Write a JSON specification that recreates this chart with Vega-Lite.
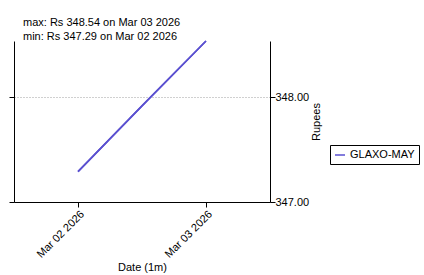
{
  "$schema": "https://vega.github.io/schema/vega-lite/v6.json",
  "autosize": "none",
  "width": 256,
  "height": 161,
  "padding": {"left": 14, "top": 41, "right": 154, "bottom": 73},
  "background": "white",
  "config": {
    "font": "Liberation Sans",
    "view": {"stroke": null},
    "axis": {"labelFont": "Liberation Sans", "titleFont": "Liberation Sans", "labelColor": "black", "titleColor": "black", "domainColor": "black", "tickColor": "black", "labelFontSize": 11, "titleFontSize": 11, "titleFontWeight": "normal", "tickSize": 5}
  },
  "title": {
    "text": ["max: Rs 348.54 on Mar 03 2026", "min: Rs 347.29 on Mar 02 2026"],
    "anchor": "start",
    "frame": "group",
    "dx": 9,
    "offset": -4,
    "fontSize": 11,
    "fontWeight": "normal",
    "font": "Liberation Sans",
    "color": "black",
    "lineHeight": 14
  },
  "data": {
    "values": [
      {"date": "2026-03-02T00:00:00", "price": 347.29, "series": "GLAXO-MAY"},
      {"date": "2026-03-02T12:00:00", "price": 347.92, "series": "GLAXO-MAY"},
      {"date": "2026-03-03T00:00:00", "price": 348.54, "series": "GLAXO-MAY"}
    ]
  },
  "layer": [
    {
      "mark": {"type": "line", "strokeWidth": 1.6},
      "encoding": {
        "x": {"field": "date", "type": "temporal",
          "scale": {"domain": ["2026-03-01T12:00:00", "2026-03-03T12:00:00"]},
          "axis": {"values": ["2026-03-02T00:00:00", "2026-03-03T00:00:00"], "format": "%b %d %Y", "labelAngle": -45, "title": "Date (1m)", "grid": false, "labelPadding": 1, "titlePadding": 2}},
        "y": {"field": "price", "type": "quantitative",
          "scale": {"domain": [347, 348.54], "nice": false, "zero": false},
          "axis": {"orient": "left", "values": [347, 348], "labels": false, "title": null, "grid": false}},
        "color": {"field": "series", "type": "nominal", "scale": {"range": ["#5a50d0"]},
          "legend": {"orient": "none", "legendX": 316, "legendY": 104, "title": null, "strokeColor": "black", "padding": 4, "symbolType": "stroke", "symbolSize": 100, "symbolStrokeWidth": 1.5, "labelFontSize": 11, "labelFont": "Liberation Sans", "labelColor": "black"}}
      }
    },
    {
      "mark": {"type": "line", "strokeWidth": 1.6},
      "encoding": {
        "x": {"field": "date", "type": "temporal"},
        "y": {"field": "price", "type": "quantitative",
          "scale": {"domain": [347, 348.54], "nice": false, "zero": false},
          "axis": {"orient": "right", "values": [347, 348], "format": ".2f", "title": "Rupees", "titleAngle": -90, "grid": true, "gridColor": "#888", "gridDash": [1, 2], "gridWidth": 0.8, "labelPadding": 0, "titlePadding": 13}},
        "color": {"field": "series", "type": "nominal"}
      }
    }
  ],
  "resolve": {"scale": {"y": "independent"}}
}
